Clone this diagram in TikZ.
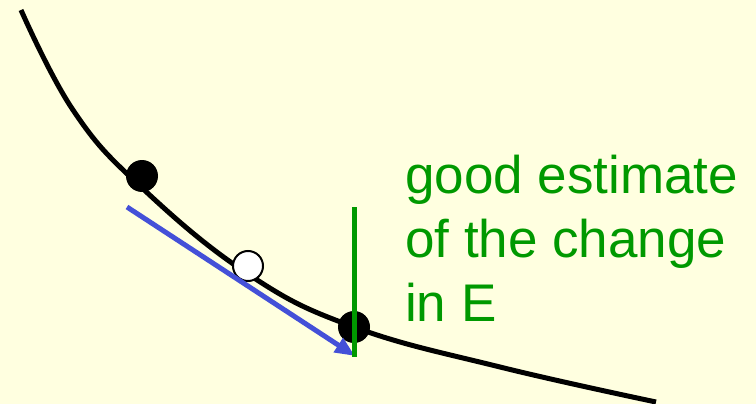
\documentclass[tikz,border=0pt]{standalone}
\usepackage{fontspec}
\setmainfont{Liberation Sans}
\usetikzlibrary{arrows.meta}
\definecolor{bg}{RGB}{255,255,224}
\definecolor{grn}{RGB}{0,153,0}
\definecolor{blu}{RGB}{68,80,216}
\tikzset{
  curve/.style={line width=5pt, black},
  fulldot/.style={circle, fill=black, minimum size=32pt, inner sep=0pt},
  emptydot/.style={circle, draw=black, line width=2pt, fill=white, minimum size=30pt, inner sep=0pt},
  lbl/.style={text=grn, font=\fontsize{53}{64}\selectfont, align=left, anchor=north west, inner sep=0pt},
}
\begin{document}
\begin{tikzpicture}[x=1pt,y=-1pt]
\fill[bg] (0,0) rectangle (756,404);
\useasboundingbox (0,0) rectangle (756,404);
\draw[curve] plot[smooth, tension=0.7] coordinates {(21,10) (73,110) (140,186) (248,274) (354,327) (500,367) (656,402)};
\node[fulldot] (p1) at (142,176) {};
\node[fulldot] (p3) at (354,327) {};
\node[emptydot] (p2) at (248,266) {};
\coordinate (a0) at (127,207);
\coordinate (a1) at (355,356);
\draw[blu, line width=5pt, -{Triangle[length=20pt,width=16pt]}] (a0) -- (a1);
\coordinate (g0) at (354,207);
\coordinate (g1) at (354,357);
\draw[grn, line width=5pt] (g0) -- (g1);
\node[lbl] (t) at (405,155) {good estimate\\of the change\\in E};
\end{tikzpicture}
\end{document}
